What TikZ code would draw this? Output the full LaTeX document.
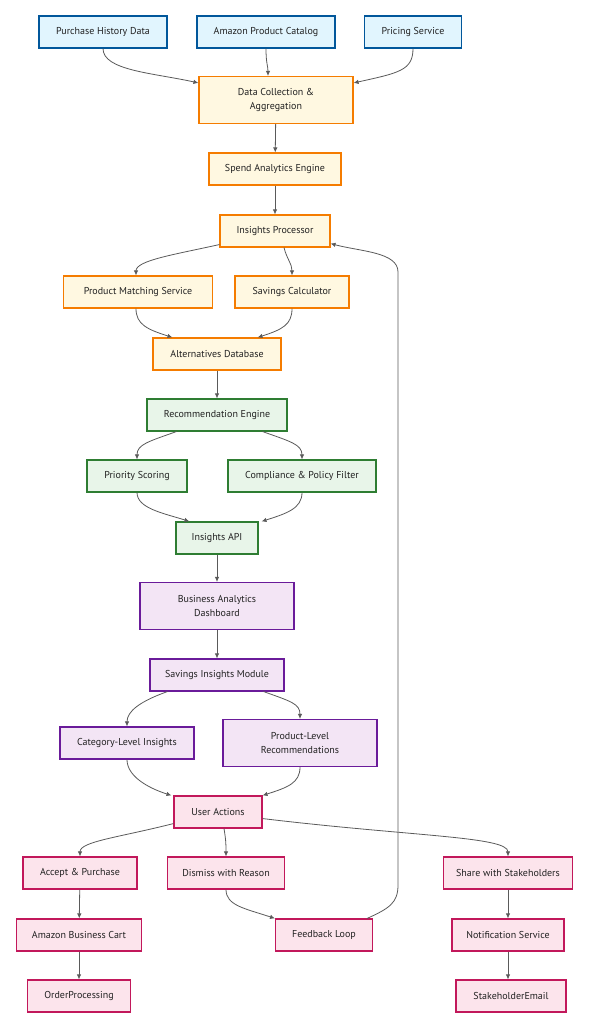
\documentclass[tikz,border=0pt]{standalone}
\usepackage{fontspec}
\setmainfont{PT Sans}
\usepackage{tikz}
\usetikzlibrary{arrows.meta, positioning}

% colours of the five layers
\definecolor{srcfill}{HTML}{E1F5FE}
\definecolor{srcdraw}{HTML}{01579B}
\definecolor{prcfill}{HTML}{FFF8E1}
\definecolor{prcdraw}{HTML}{F57C00}
\definecolor{recfill}{HTML}{E8F5E9}
\definecolor{recdraw}{HTML}{2E7D32}
\definecolor{uifill}{HTML}{F3E5F5}
\definecolor{uidraw}{HTML}{6A1B9A}
\definecolor{actfill}{HTML}{FCE4EC}
\definecolor{actdraw}{HTML}{C2185B}
\definecolor{edgecol}{HTML}{5A5A5A}
\definecolor{txtcol}{HTML}{222222}

\tikzset{
  box/.style={draw, line width=1.1pt, minimum height=32pt, inner sep=2pt,
    align=center, text=txtcol, font=\fontsize{10}{14}\selectfont},
  tall/.style={minimum height=47pt},
  srcbox/.style={box, fill=srcfill, draw=srcdraw},
  prcbox/.style={box, fill=prcfill, draw=prcdraw},
  recbox/.style={box, fill=recfill, draw=recdraw},
  uibox/.style={box, fill=uifill, draw=uidraw},
  actbox/.style={box, fill=actfill, draw=actdraw},
  flow/.style={draw=edgecol, line width=0.8pt,
    -{Latex[length=5pt,width=4.5pt]}}
}

\begin{document}
\begin{tikzpicture}[x=1pt, y=-1pt]
    \useasboundingbox (0,0) rectangle (597,1028);

    % Data sources
    \node[srcbox, minimum width=128pt] (phd) at (103,32) {Purchase History Data};
    \node[srcbox, minimum width=138pt] (apc) at (266,32) {Amazon Product Catalog};
    \node[srcbox, minimum width=97pt] (ps) at (413,32) {Pricing Service};

    % Processing layer
    \node[prcbox, tall, minimum width=154pt] (dca) at (276,100) {Data Collection \&\\Aggregation};
    \node[prcbox, minimum width=132pt] (sae) at (275,169) {Spend Analytics Engine};
    \node[prcbox, minimum width=110pt] (ip) at (275,231) {Insights Processor};
    \node[prcbox, minimum width=149pt] (pms) at (138,292) {Product Matching Service};
    \node[prcbox, minimum width=114pt] (sc) at (292,292) {Savings Calculator};
    \node[prcbox, minimum width=128pt] (ad) at (217,354) {Alternatives Database};

    % Recommendation layer
    \node[recbox, minimum width=140pt] (re) at (217,415) {Recommendation Engine};
    \node[recbox, minimum width=100pt] (psc) at (137,476) {Priority Scoring};
    \node[recbox, minimum width=148pt] (cpf) at (302,476) {Compliance \& Policy Filter};
    \node[recbox, minimum width=82pt] (api) at (217,538) {Insights API};

    % Dashboard layer
    \node[uibox, tall, minimum width=154pt] (bad) at (217,606) {Business Analytics\\Dashboard};
    \node[uibox, minimum width=134pt] (sim) at (217,675) {Savings Insights Module};
    \node[uibox, minimum width=134pt] (cli) at (127,743) {Category-Level Insights};
    \node[uibox, tall, minimum width=154pt] (plr) at (300,743) {Product-Level\\Recommendations};

    % User actions
    \node[actbox, minimum width=88pt] (ua) at (218,812) {User Actions};
    \node[actbox, minimum width=114pt] (ap) at (80,873) {Accept \& Purchase};
    \node[actbox, minimum width=117pt] (dwr) at (226,873) {Dismiss with Reason};
    \node[actbox, minimum width=129pt] (swt) at (508,873) {Share with Stakeholders};
    \node[actbox, minimum width=125pt] (abc) at (79,935) {Amazon Business Cart};
    \node[actbox, minimum width=97pt] (fl) at (324,935) {Feedback Loop};
    \node[actbox, minimum width=112pt] (ns) at (508,935) {Notification Service};
    \node[actbox, minimum width=110pt] (se) at (511,996) {StakeholderEmail};
    \node[actbox, minimum width=103pt] (op) at (79,996) {OrderProcessing};

    % Sources into collection
    \draw[flow] (phd.south) .. controls +(0,22) and +(-45,-10) .. ([yshift=-7pt]dca.north west);
    \draw[flow] (apc.south) .. controls +(0,15) and +(0,-10) .. ([xshift=-8pt]dca.north);
    \draw[flow] (ps.south) .. controls +(0,22) and +(45,-10) .. ([yshift=-7pt]dca.north east);

    % Processing chain
    \draw[flow] (dca) -- (sae);
    \draw[flow] (sae) -- (ip);
    \draw[flow] ([yshift=3pt]ip.south west) .. controls +(-45,10) and +(0,-15) .. ([xshift=-2pt]pms.north);
    \draw[flow] ([xshift=9pt]ip.south) .. controls +(3,12) and +(0,-12) .. (sc.north);
    \draw[flow] ([xshift=-2pt]pms.south) .. controls +(0,16) and +(-25,-8) .. ([xshift=20pt]ad.north west);
    \draw[flow] (sc.south) .. controls +(0,16) and +(25,-8) .. ([xshift=-24pt]ad.north east);
    \draw[flow] (ad) -- (re);

    % Recommendation chain
    \draw[flow] ([xshift=30pt]re.south west) .. controls +(-28,10) and +(0,-15) .. (psc.north);
    \draw[flow] ([xshift=-25pt]re.south east) .. controls +(28,10) and +(0,-15) .. (cpf.north);
    \draw[flow] (psc.south) .. controls +(0,16) and +(-25,-8) .. ([xshift=14pt]api.north west);
    \draw[flow] (cpf.south) .. controls +(0,16) and +(25,-8) .. ([xshift=3pt]api.north east);
    \draw[flow] (api) -- (bad);

    % Dashboard chain
    \draw[flow] (bad) -- (sim);
    \draw[flow] ([xshift=18pt]sim.south west) .. controls +(-28,10) and +(0,-15) .. (cli.north);
    \draw[flow] ([xshift=-21pt]sim.south east) .. controls +(28,10) and +(0,-15) .. (plr.north);
    \draw[flow] (cli.south) .. controls +(0,16) and +(-25,-8) .. ([xshift=-2pt]ua.north west);
    \draw[flow] (plr.south) .. controls +(0,16) and +(25,-8) .. (ua.north east);

    % User action branches
    \draw[flow] ([yshift=5pt]ua.south west) .. controls +(-55,14) and +(0,-15) .. (ap.north);
    \draw[flow] ([xshift=6pt]ua.south) .. controls +(2,12) and +(0,-12) .. (dwr.north);
    \draw[flow] ([yshift=10pt]ua.south east) .. controls +(150,18) and +(0,-20) .. (swt.north);
    \draw[flow] (ap) -- (abc);
    \draw[flow] (abc) -- (abc |- op.north);
    \draw[flow] (dwr.south) .. controls +(0,16) and +(-30,-10) .. (fl.north west);
    \draw[flow] (swt) -- (ns);
    \draw[flow] (ns) -- (ns |- se.north);

    % Feedback back to processing
    \coordinate (fbbot) at (398,885);
    \coordinate (fbtop) at (398,272);
    \draw[flow] ([xshift=-6pt]fl.north east) .. controls +(22,-10) and +(0,18) .. (fbbot) -- (fbtop)
        .. controls +(0,-20) and +(30,8) .. ([yshift=4pt]ip.south east);
\end{tikzpicture}
\end{document}
